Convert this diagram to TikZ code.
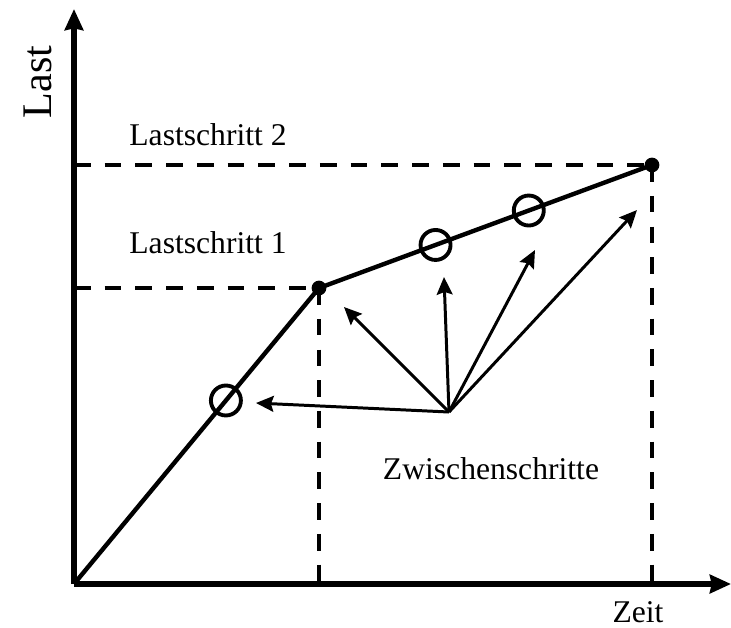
\documentclass[tikz,border=0pt]{standalone}
\usepackage{fontspec}
\setmainfont{Liberation Serif}
\usetikzlibrary{arrows.meta,positioning}

\begin{document}
\begin{tikzpicture}[x=0.02cm,y=-0.02cm,font=\fontsize{18}{22}\selectfont,
  achse/.style={line width=3.2pt,-{Stealth[length=12pt,width=10.5pt,inset=1pt]}},
  kurve/.style={line width=2.5pt},
  hilfslinie/.style={line width=2.3pt,dash pattern=on 9.5pt off 8pt},
  teilpfeil/.style={line width=1.7pt,-{Stealth[length=10pt,width=9pt,inset=1.5pt]}},
  zwischen/.style={circle,draw,line width=2.2pt,minimum size=0.6cm,inner sep=0pt}]
 \useasboundingbox (0,0) rectangle (731,627);
 % Achsen
 \coordinate (O) at (74,584);
 \coordinate (ytop) at (74,9);
 \coordinate (xend) at (731,584);
 \draw[achse] (O) -- (ytop);
 \draw[achse] (O) -- (xend);
 \node[rotate=90,font=\fontsize{24}{28}\selectfont] (last) at (38,82) {Last};
 \node (zeit) at (638,612) {Zeit};
 % Lastschritte
 \coordinate (P1) at (319,288);
 \coordinate (P2) at (652,165);
 \draw[hilfslinie] (O |- P1) -- (P1);
 \draw[hilfslinie] (O |- P2) -- (P2);
 \draw[hilfslinie] (P1) -- (P1 |- O);
 \draw[hilfslinie] (P2) -- (P2 |- O);
 \draw[kurve] (O) -- (P1)
   node[zwischen,pos=0.62] (c1) {}
   -- (P2)
   node[zwischen,pos=0.35] (c2) {}
   node[zwischen,pos=0.63] (c3) {};
 \fill (P1) circle (4.2pt);
 \fill (P2) circle (4.2pt);
 \node (ls2) at (208,135) {Lastschritt 2};
 \node (ls1) at (208,243) {Lastschritt 1};
 % Zwischenschritte
 \coordinate (Q) at (449,412);
 \coordinate (z1) at (256,403);
 \coordinate (z2) at (344,307);
 \coordinate (z3) at (444,277);
 \coordinate (z4) at (535,250);
 \coordinate (z5) at (637,210);
 \foreach \z in {z1,z2,z3,z4,z5}
   \draw[teilpfeil] (Q) -- (\z);
 \node (zw) at (491,469) {Zwischenschritte};
\end{tikzpicture}
\end{document}
